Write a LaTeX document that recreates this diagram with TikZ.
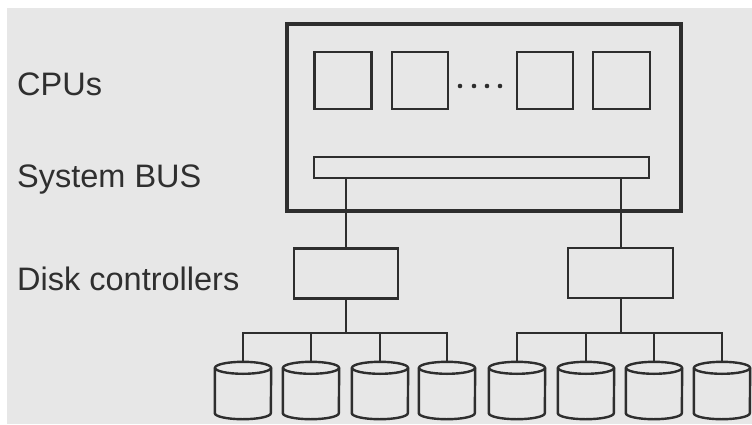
\documentclass[tikz,border=0pt]{standalone}
\usepackage{fontspec}
\setmainfont{Liberation Sans}
\definecolor{ink}{HTML}{2E2E2E}
\definecolor{txt}{HTML}{2F2F2F}
\definecolor{paper}{HTML}{E7E7E7}
\tikzset{
  frame/.style={draw=ink, line width=3.2pt, minimum width=394pt, minimum height=187pt, inner sep=0pt},
  cpubox/.style={draw=ink, line width=2.4pt, minimum width=57pt, minimum height=57pt, inner sep=0pt},
  busbar/.style={draw=ink, line width=2.2pt, minimum width=335pt, minimum height=21pt, inner sep=0pt},
  ctrlbox/.style={draw=ink, line width=2.4pt, minimum width=104pt, minimum height=50pt, inner sep=0pt},
  diskspace/.style={minimum width=56pt, minimum height=57pt, inner sep=0pt},
  diskline/.style={draw=ink, line width=2.4pt},
  wire/.style={draw=ink, line width=2pt},
  lbl/.style={text=txt, font=\fontsize{32.5}{38}\selectfont, anchor=base west, inner sep=0pt},
  dotmark/.style={circle, fill=ink, minimum size=4.6pt, inner sep=0pt}
}
\newcommand{\mydisk}[2]{%
  \node[diskspace] (#1) at (#2,390.5) {};
  \draw[diskline] ([yshift=-6pt]#1.north west) -- ([yshift=6pt]#1.south west)
     arc[start angle=180, end angle=360, x radius=28pt, y radius=6pt]
     -- ([yshift=-6pt]#1.north east);
  \draw[diskline] ([yshift=-6pt]#1.north) ellipse[x radius=28pt, y radius=6pt];
}
\begin{document}
\begin{tikzpicture}[x=1pt,y=-1pt]
\useasboundingbox (0,0) rectangle (752,424);
\fill[white] (0,0) rectangle (752,424);
\fill[paper] (7,8) rectangle (752,424);
% labels
\node[lbl] (lcpu) at (17,95) {CPUs};
\node[lbl] (lbus) at (17,187) {System BUS};
\node[lbl] (lctl) at (17,290) {Disk controllers};
% main frame
\node[frame] (frame) at (484,117.5) {};
\node[cpubox] (cpu1) at (343,80.5) {};
\node[cpubox, minimum width=56pt] (cpu2) at (420,80.5) {};
\node[cpubox, minimum width=56pt] (cpu3) at (545,80.5) {};
\node[cpubox] (cpu4) at (621.5,80.5) {};
\node[dotmark] (dt1) at (460,86) {};
\node[dotmark] (dt2) at (474,86) {};
\node[dotmark] (dt3) at (487,86) {};
\node[dotmark] (dt4) at (500,86) {};
\node[busbar] (bus) at (481.5,167.5) {};
% controllers
\node[ctrlbox] (ctl1) at (346,273.5) {};
\node[ctrlbox, minimum width=105pt] (ctl2) at (620.5,273) {};
\draw[wire] (ctl1.north) -- (ctl1.north |- bus.south);
\draw[wire] (ctl2.north) -- (ctl2.north |- bus.south);
% disks
\mydisk{d1}{243}
\mydisk{d2}{311}
\mydisk{d3}{380}
\mydisk{d4}{447}
\mydisk{d5}{517}
\mydisk{d6}{586}
\mydisk{d7}{654}
\mydisk{d8}{722}
\coordinate (j1) at (346,333);
\coordinate (j2) at (620.5,333);
\draw[wire] (ctl1.south) -- (j1);
\draw[wire] (ctl2.south) -- (j2);
\draw[wire] (d1.north) |- (j1) -| (d4.north);
\draw[wire] (d2.north) -- (d2.north |- j1);
\draw[wire] (d3.north) -- (d3.north |- j1);
\draw[wire] (d5.north) |- (j2) -| (d8.north);
\draw[wire] (d6.north) -- (d6.north |- j2);
\draw[wire] (d7.north) -- (d7.north |- j2);
\end{tikzpicture}
\end{document}
